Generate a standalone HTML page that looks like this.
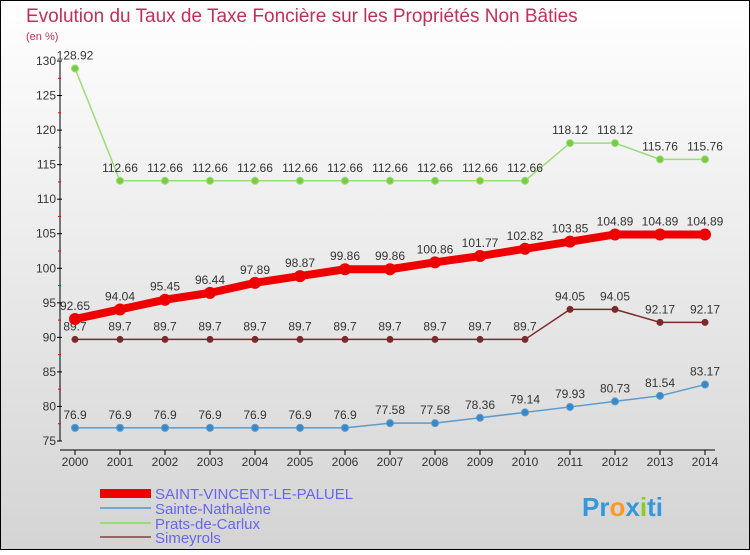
<!DOCTYPE html>
<html><head><meta charset="utf-8"><style>
body{margin:0;width:750px;height:550px;overflow:hidden;font-family:"Liberation Sans",sans-serif}
</style></head><body>
<svg width="750" height="550" xmlns="http://www.w3.org/2000/svg" font-family="Liberation Sans, sans-serif">
<defs><linearGradient id="bg" x1="0" y1="0" x2="0" y2="1"><stop offset="0" stop-color="#ffffff"/><stop offset="1" stop-color="#d4d4d4"/></linearGradient></defs>
<rect x="0.5" y="0.5" width="749" height="549" fill="url(#bg)" stroke="#000"/>
<text x="26" y="22" font-size="19" fill="#c0305a">Evolution du Taux de Taxe Foncière sur les Propriétés Non Bâties</text>
<text x="26" y="40" font-size="11" fill="#c0305a">(en %)</text>
<g id="axes"></g><g id="series"></g>
<g>
<rect x="100" y="489" width="51" height="9" fill="#ee0000"/>
<line x1="100" y1="508" x2="151" y2="508" stroke="#6fa8d0" stroke-width="2"/>
<line x1="100" y1="523" x2="151" y2="523" stroke="#99dd77" stroke-width="2"/>
<line x1="100" y1="537" x2="151" y2="537" stroke="#996666" stroke-width="2"/>
<text x="155" y="499" font-size="15" fill="#6666ee">SAINT-VINCENT-LE-PALUEL</text>
<text x="155" y="514" font-size="15" fill="#6666ee">Sainte-Nathalène</text>
<text x="155" y="529" font-size="15" fill="#6666ee">Prats-de-Carlux</text>
<text x="155" y="543" font-size="15" fill="#6666ee">Simeyrols</text>
</g>
<g font-size="26" font-weight="bold"><text x="582" y="516"><tspan fill="#3399dd">Pr</tspan><tspan fill="#ff9922">o</tspan><tspan fill="#3399dd">x</tspan><tspan fill="#88cc22">i</tspan><tspan fill="#3399dd">ti</tspan></text></g>
</svg>
<script>
const years=[2000,2001,2002,2003,2004,2005,2006,2007,2008,2009,2010,2011,2012,2013,2014];
const yTicks=[75,80,85,90,95,100,105,110,115,120,125,130];
const stVincent=[92.65,94.04,95.45,96.44,97.89,98.87,99.86,99.86,100.86,101.77,102.82,103.85,104.89,104.89,104.89];
const steNathalene=[76.9,76.9,76.9,76.9,76.9,76.9,76.9,77.58,77.58,78.36,79.14,79.93,80.73,81.54,83.17];
const prats=[128.92,112.66,112.66,112.66,112.66,112.66,112.66,112.66,112.66,112.66,112.66,118.12,118.12,115.76,115.76];
const simeyrols=[89.7,89.7,89.7,89.7,89.7,89.7,89.7,89.7,89.7,89.7,89.7,94.05,94.05,92.17,92.17];
const NS="http://www.w3.org/2000/svg";
const X=i=>75+i*45, Y=v=>441-(v-75)*(380/55);
function mk(t,a,p){const e=document.createElementNS(NS,t);for(const k in a)e.setAttribute(k,a[k]);p.appendChild(e);return e;}
const ax=document.getElementById('axes');
const yl=mk('line',{x1:60,y1:Y(130),x2:60,y2:Y(75),stroke:'#000'},ax);


const xl=mk('line',{x1:60,y1:450,x2:715,y2:450,stroke:'#000'},ax);


yTicks.forEach(v=>{mk('line',{x1:57,y1:Y(v),x2:62,y2:Y(v),stroke:'#000'},ax);
 if(v<130)mk('line',{x1:58,y1:Y(v+2.5),x2:61,y2:Y(v+2.5),stroke:'#f00'},ax);
 const t=mk('text',{x:56,y:Y(v)+4,'font-size':12,'text-anchor':'end',fill:'#333'},ax);t.textContent=v;
 
 });
years.forEach((yr,i)=>{mk('line',{x1:X(i),y1:450,x2:X(i),y2:455,stroke:'#000'},ax);
 const t=mk('text',{x:X(i),y:466,'font-size':12,'text-anchor':'middle',fill:'#333'},ax);t.textContent=yr;
 
 });
const sg=document.getElementById('series');
function series(name,data,color,w,r,dot){
 const g=mk('g',{},sg);
 
 
 mk('polyline',{points:data.map((v,i)=>X(i)+','+Y(v)).join(' '),fill:'none',stroke:color,'stroke-width':w,'stroke-linejoin':'round'},g);
 data.forEach((v,i)=>{mk('circle',{cx:X(i),cy:Y(v),r:r,fill:dot,stroke:color,'stroke-width':1},g);
  const t=mk('text',{x:X(i),y:Y(v)-9,'font-size':12,'text-anchor':'middle',fill:'#333'},g);t.textContent=String(v);});
}
series('series-simeyrols',simeyrols,'#7a2a2a',1.5,3,'#7a2a2a');
series('series-sainte-nathalene',steNathalene,'#5b9bcc',1.5,3.5,'#3a88c8');
series('series-prats-de-carlux',prats,'#99dd77',1.5,3.5,'#77cc44');
series('series-saint-vincent-le-paluel',stVincent,'#ee0000',8,5.5,'#ee0000');
</script>
</body></html>
